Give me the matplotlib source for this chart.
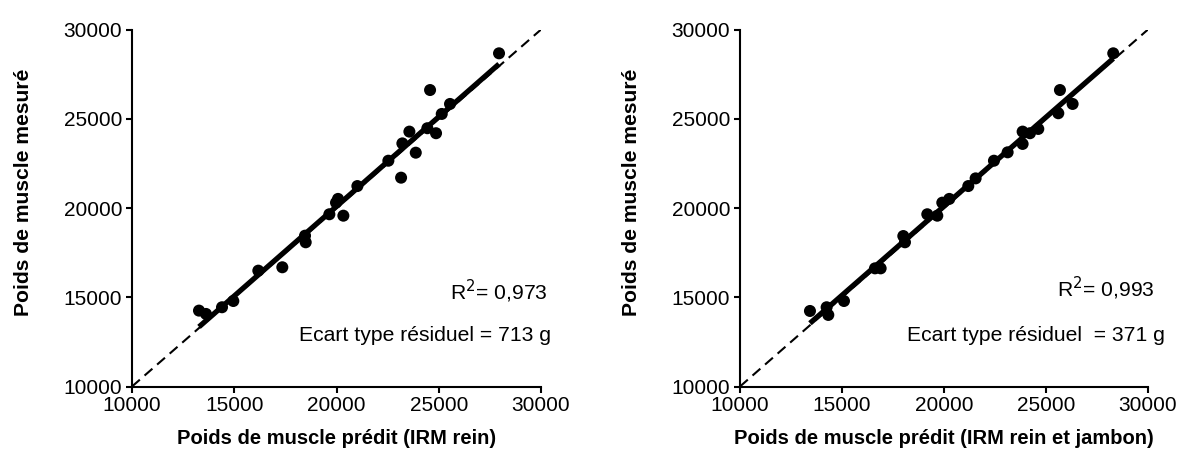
import numpy as np
import matplotlib
matplotlib.use("Agg")
import matplotlib.pyplot as plt

plt.rcParams['font.family'] = ['Liberation Sans', 'DejaVu Sans']

# Left panel: predicted (IRM rein) vs measured
pred_rein = [13276, 13618, 14401, 14954, 16177, 17350, 18460, 18493, 19650, 19976,
             20074, 20335, 21020, 22535, 23157, 23220, 23563, 23875, 24442, 24574,
             24866, 25145, 25550, 27946]
meas_rein = [14252, 14066, 14440, 14790, 16490, 16680, 18450, 18080, 19650, 20300,
             20510, 19570, 21230, 22650, 21700, 23620, 24280, 23100, 24470, 26610,
             24190, 25270, 25830, 28667]

# Right panel: predicted (IRM rein et jambon) vs measured
pred_rj = [13431, 14248, 14330, 15098, 16618, 16896, 18007, 18088, 19183, 19673,
           19918, 20261, 21193, 21552, 22451, 23121, 23856, 23856, 24216, 24624,
           25605, 25686, 26307, 28299]
meas_rj = [14232, 14440, 14010, 14790, 16620, 16620, 18430, 18080, 19650, 19570,
           20300, 20510, 21230, 21660, 22650, 23120, 23590, 24280, 24190, 24430,
           25310, 26610, 25830, 28667]

xlabels = ["Poids de muscle prédit (IRM rein)", "Poids de muscle prédit (IRM rein et jambon)"]
ylabel = "Poids de muscle mesuré"
r2_texts = ["R$^{2}$= 0,973", "R$^{2}$= 0,993"]
sd_texts = ["Ecart type résiduel = 713 g", "Ecart type résiduel  = 371 g"]
ticks = [10000, 15000, 20000, 25000, 30000]

fig = plt.figure(figsize=(11.87, 4.5), dpi=100)
axes = [fig.add_axes([0.1112, 0.1411, 0.3446, 0.7933]),
        fig.add_axes([0.6234, 0.1411, 0.3437, 0.7933])]

datasets = [(pred_rein, meas_rein), (pred_rj, meas_rj)]
text_pos = [((1.015, 0.266), (1.024, 0.144)), ((1.017, 0.276), (1.042, 0.144))]
for ax, (xd, yd), xl, r2, sd, tp in zip(axes, datasets, xlabels, r2_texts, sd_texts, text_pos):
    xd = np.array(xd); yd = np.array(yd)
    ax.plot([10000, 30000], [10000, 30000], ls=(0, (5, 3)), color='black', lw=1.5, zorder=1)
    slope, inter = np.polyfit(xd, yd, 1)
    xs = np.array([xd.min(), xd.max()])
    ax.plot(xs, slope * xs + inter, color='black', lw=3.8, solid_capstyle='butt', zorder=2)
    ax.scatter(xd, yd, s=75, color='black', zorder=3, edgecolors='none')
    ax.set_xlim(10000, 30000)
    ax.set_ylim(10000, 30000)
    ax.set_xticks(ticks)
    ax.set_yticks(ticks)
    for s in ['top', 'right']:
        ax.spines[s].set_visible(False)
    for s in ['left', 'bottom']:
        ax.spines[s].set_linewidth(1.5)
    ax.tick_params(direction='out', length=4, width=1.5, labelsize=15, pad=3)
    ax.set_xlabel(xl, fontsize=14.5, fontweight='bold', labelpad=10)
    ax.set_ylabel(ylabel, fontsize=15.2, fontweight='bold', labelpad=22)
    ax.yaxis.label.set_y(0.545)
    ax.text(tp[0][0], tp[0][1], r2, transform=ax.transAxes, ha='right', va='center', fontsize=15.2)
    ax.text(tp[1][0], tp[1][1], sd, transform=ax.transAxes, ha='right', va='center', fontsize=15.2)

fig.savefig("out.png", dpi=100)
